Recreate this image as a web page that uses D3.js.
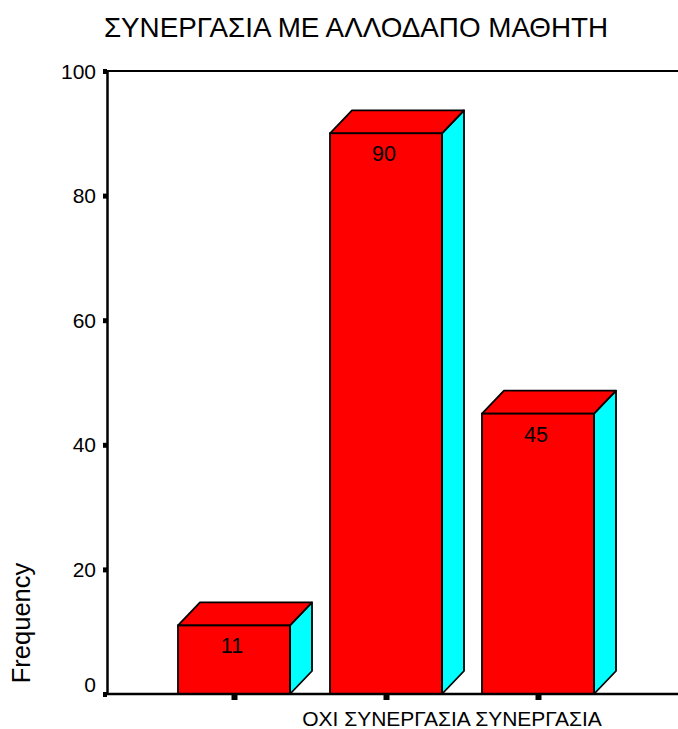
<!DOCTYPE html>
<html>
<head>
<meta charset="utf-8">
<script src="https://cdn.jsdelivr.net/npm/d3@7"></script>
<style>
  html, body { margin: 0; padding: 0; background: #fff; }
  svg { display: block; font-family: Arial, "Liberation Sans", sans-serif; }
</style>
</head>
<body>
<svg id="chart" width="678" height="729"></svg>
<script>
const title = "ΣΥΝΕΡΓΑΣΙΑ ΜΕ ΑΛΛΟΔΑΠΟ ΜΑΘΗΤΗ";
const yLabel = "Frequency";
const categories = ["", "ΟΧΙ ΣΥΝΕΡΓΑΣΙΑ", "ΣΥΝΕΡΓΑΣΙΑ"];
const values = [11, 90, 45];
const yTicks = [0, 20, 40, 60, 80, 100];

(function () {
const svg = d3.select("#chart");
const W = 678;
const plotLeft = 107, plotTop = 71, plotBottom = 694;
const barW = 112, depthX = 22, depthY = 23;

const y = d3.scaleLinear().domain([0, 100]).range([plotBottom, plotTop]);
const x = d3.scalePoint().domain(categories).range([234, 538]);

// title
svg.append("text")
  .attr("x", 356).attr("y", 37)
  .attr("text-anchor", "middle")
  .attr("font-size", 27.8)
  .attr("fill", "#000")
  .text(title);

// y label
svg.append("text")
  .attr("transform", "translate(30,623) rotate(-90)")
  .attr("text-anchor", "middle")
  .attr("font-size", 25.5)
  .attr("fill", "#000")
  .text(yLabel);

// top frame line
svg.append("line").attr("x1", plotLeft).attr("x2", W + 2).attr("y1", plotTop).attr("y2", plotTop)
  .attr("stroke", "#000").attr("stroke-width", 2);

// bars
const g = svg.append("g");
categories.forEach((c, i) => {
  const v = values[i];
  const cx = x(c);
  const x0 = cx - barW / 2, x1 = cx + barW / 2;
  const yv = y(v), y0 = y(0);
  g.append("polygon")
    .attr("points", [[x1, yv], [x1 + depthX, yv - depthY], [x1 + depthX, y0 - depthY], [x1, y0]].map(p => p.join(",")).join(" "))
    .attr("fill", "#00FFFF").attr("stroke", "#000").attr("stroke-width", 1.8).attr("stroke-linejoin", "round");
  g.append("polygon")
    .attr("points", [[x0, yv], [x0 + depthX, yv - depthY], [x1 + depthX, yv - depthY], [x1, yv]].map(p => p.join(",")).join(" "))
    .attr("fill", "#FF0000").attr("stroke", "#000").attr("stroke-width", 1.8).attr("stroke-linejoin", "round");
  g.append("rect")
    .attr("x", x0).attr("y", yv).attr("width", barW).attr("height", y0 - yv)
    .attr("fill", "#FF0000").attr("stroke", "#000").attr("stroke-width", 1.8);
  g.append("text")
    .attr("x", cx - 2).attr("y", yv + 28)
    .attr("text-anchor", "middle")
    .attr("font-size", 21.5)
    .attr("fill", "#000")
    .text(v);
});

// y axis
const yAxis = svg.append("g")
  .attr("transform", `translate(${plotLeft},0)`)
  .call(d3.axisLeft(y).tickValues(yTicks).tickSize(4).tickSizeOuter(0).tickPadding(7));
yAxis.select(".domain").attr("stroke", "#000").attr("stroke-width", 2.5);
yAxis.selectAll(".tick line").attr("stroke", "#000").attr("stroke-width", 5);
yAxis.selectAll(".tick text").attr("font-size", 21).attr("fill", "#000")
  .attr("font-family", "Arial, 'Liberation Sans', sans-serif")
  .attr("dy", d => d === 0 ? "-0.1em" : "0.34em");

// x axis
const xAxis = svg.append("g")
  .attr("transform", `translate(0,${plotBottom})`)
  .call(d3.axisBottom(x).tickSize(6).tickSizeOuter(0).tickPadding(11));
xAxis.select(".domain").remove();
svg.append("line").attr("x1", plotLeft - 1).attr("x2", W + 2).attr("y1", plotBottom).attr("y2", plotBottom)
  .attr("stroke", "#000").attr("stroke-width", 2.5);
xAxis.selectAll(".tick line").attr("stroke", "#000").attr("stroke-width", 6);
xAxis.selectAll(".tick text").attr("font-size", 21).attr("fill", "#000")
  .attr("font-family", "Arial, 'Liberation Sans', sans-serif");
})();
</script>
</body>
</html>
